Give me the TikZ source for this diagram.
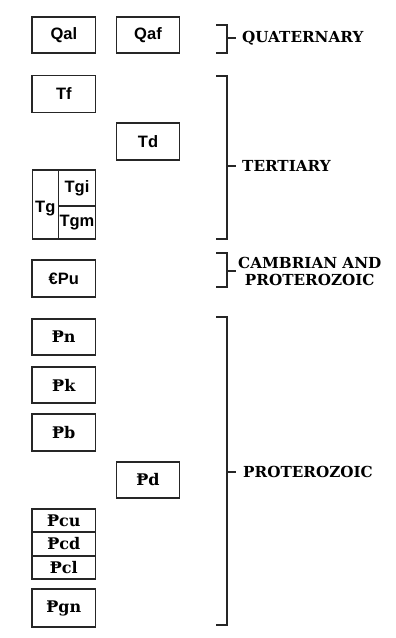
\documentclass[tikz,border=0pt]{standalone}
\usepackage{fontspec}
\setmainfont{DejaVu Serif}
\newfontfamily\boxsans{Liberation Sans}
\newfontfamily\boxserif{DejaVu Serif}
\newfontfamily\lblfont{DejaVu Serif}
\begin{document}
\begin{tikzpicture}[x=1pt,y=-1pt,
  box/.style={draw=black!85, line width=1.2pt, minimum width=63.5pt, inner sep=0pt, font=\boxsans\bfseries\fontsize{16.5}{16.5}\selectfont},
  pbox/.style={box, font=\boxserif\bfseries\fontsize{16}{16}\selectfont},
  brk/.style={draw=black!85, line width=1.1pt},
  era/.style={anchor=west, inner sep=0pt, align=center, font=\lblfont\bfseries\fontsize{15.2}{17}\selectfont}
]
\useasboundingbox[fill=white] (0,0) rectangle (396,638);
% left and right column boxes
\node[box, minimum height=36pt] (qal) at (63.8,35) {Qal};
\node[box, minimum height=36pt] (qaf) at (148,35) {Qaf};
\node[box, minimum height=37pt] (tf) at (63.8,94) {Tf};
\node[box, minimum height=37pt] (td) at (148,141.5) {Td};
% Tg block
\node[box, minimum width=26pt, minimum height=69pt] (tg) at (45.3,204.5) {};
\node[font=\boxsans\bfseries\fontsize{16.5}{16.5}\selectfont, inner sep=0pt] (tglbl) at (45.3,208.5) {Tg};
\node[box, minimum width=37.5pt, minimum height=36pt] (tgi) at (77,188) {Tgi};
\node[box, minimum width=37.5pt, minimum height=33pt] (tgm) at (77,222.5) {Tgm};
\node[box, minimum height=37pt] (cpu) at (63.8,278.5) {€Pu};
\node[pbox, minimum height=36pt] (pn) at (63.8,337) {Ᵽn};
\node[pbox, minimum height=36pt] (pk) at (63.8,385) {Ᵽk};
\node[pbox, minimum height=37pt] (pb) at (63.8,432.5) {Ᵽb};
\node[pbox, minimum height=36pt] (pd) at (148,480) {Ᵽd};
\node[pbox, minimum height=23pt] (pcu) at (63.8,520.5) {Ᵽcu};
\node[pbox, minimum height=24pt] (pcd) at (63.8,544) {Ᵽcd};
\node[pbox, minimum height=23pt] (pcl) at (63.8,567.5) {Ᵽcl};
\node[pbox, minimum height=38pt] (pgn) at (63.8,608) {Ᵽgn};
% brackets
\coordinate (qt) at (227,38);
\coordinate (tt) at (227,166);
\coordinate (ct) at (227,271);
\coordinate (pt) at (227,472);
\node[era] (quat) at (242,38) {QUATERNARY};
\node[era] (tert) at (242,166) {TERTIARY};
\node[era] (camb) at (238,271) {CAMBRIAN AND\\PROTEROZOIC};
\node[era] (prot) at (243,472) {PROTEROZOIC};
\draw[brk] (216,25) -- (227,25) -- (227,53) -- (216,53);
\draw[brk] (qt) -- ([xshift=-6pt]quat.west);
\draw[brk] (216,76) -- (227,76) -- (227,239) -- (216,239);
\draw[brk] (tt) -- ([xshift=-6pt]tert.west);
\draw[brk] (216,253) -- (227,253) -- (227,287) -- (216,287);
\draw[brk] (ct) -- ([xshift=-2pt]camb.west);
\draw[brk] (216,317) -- (227,317) -- (227,625) -- (216,625);
\draw[brk] (pt) -- ([xshift=-7pt]prot.west);
\end{tikzpicture}
\end{document}
